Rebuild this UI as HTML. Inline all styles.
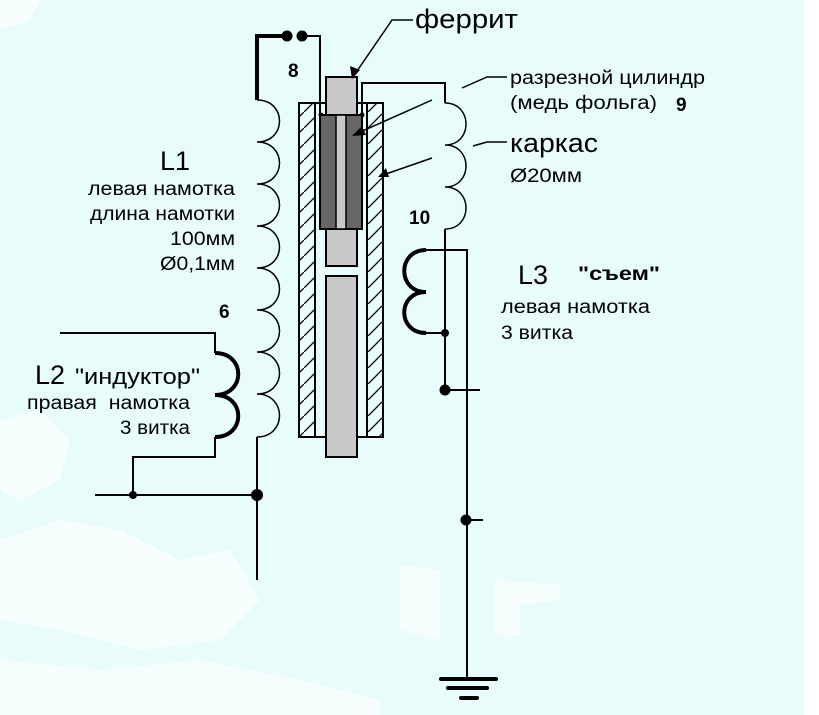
<!DOCTYPE html>
<html><head><meta charset="utf-8"><style>
html,body{margin:0;padding:0;background:#e8fcfc;}
svg{display:block;}
text{font-family:"Liberation Sans",sans-serif;fill:#000;}
</style></head><body>
<svg width="819" height="715" viewBox="0 0 819 715" xmlns="http://www.w3.org/2000/svg">
<defs>
<pattern id="h" width="16" height="16" patternUnits="userSpaceOnUse">
<line x1="0" y1="16" x2="16" y2="0" stroke="#000" stroke-width="1.3"/>
</pattern>
</defs>
<rect width="819" height="715" fill="#e8fcfc"/>
<rect x="804" y="0" width="15" height="715" fill="#fff"/>
<g fill="#fff" opacity="0.6">
<path d="M0 420 L40 410 L70 440 L60 480 L20 500 L0 490Z"/>
<path d="M0 540 L60 520 L120 530 L180 560 L230 550 L260 600 L220 640 L140 650 L60 630 L0 620Z"/>
<path d="M0 660 L100 670 L200 660 L300 680 L380 700 L380 715 L0 715Z"/>
<path d="M400 565 L440 570 L440 640 L400 630Z"/>
<path d="M495 580 L560 585 L560 600 L520 605 L520 635 L495 635Z"/>
<path d="M0 0 L40 0 L30 20 L0 30Z"/>
</g>

<g stroke="#000" fill="none" stroke-width="2">
<path d="M257 100 L257 36 L287 36" stroke-width="4"/>
<path d="M302 36 L320 36 L320 115"/>
<path d="M257 100 C287 100,287 142,257 142 C287 142,287 184,257 184 C287 184,287 226,257 226 C287 226,287 268,257 268 C287 268,287 310,257 310 C287 310,287 352,257 352 C287 352,287 394,257 394 C287 394,287 437,257 437" stroke-width="1.5"/>
<path d="M257 437 L257 580"/>
<path d="M60 333 L215 333 L215 353"/>
<path d="M215 353 C246 353,246 395,215 395 C246 395,246 437,215 437" stroke-width="4"/>
<path d="M215 437 L215 457 L133 457 L133 495"/>
<path d="M95 495 L257 495"/>
<path d="M362 115 L362 83 L445 83 L445 103"/>
<path d="M445 103 C473 103,473 145,445 145 C473 145,473 187,445 187 C473 187,473 229,445 229" stroke-width="1.5"/>
<path d="M445 229 L445 390 L480 390"/>
<path d="M426 250 L467 250 L467 679"/>
<path d="M426 250 C397 250,397 292,426 292 C397 292,397 333,426 333" stroke-width="4"/>
<path d="M426 333 L445 333"/>
<path d="M466 520 L483 520"/>
</g>
<g stroke="#000" stroke-linecap="round">
<line x1="441" y1="679" x2="496" y2="679" stroke-width="4"/>
<line x1="448" y1="688" x2="487" y2="688" stroke-width="4"/>
<line x1="461" y1="698" x2="477" y2="698" stroke-width="4"/>
</g>
<g fill="#000">
<circle cx="287" cy="36" r="5.5"/><circle cx="302" cy="36" r="5.5"/>
<circle cx="133" cy="495" r="4"/><circle cx="257" cy="495" r="6"/>
<circle cx="445" cy="333" r="4"/><circle cx="445" cy="390" r="5.5"/>
<circle cx="466" cy="520" r="5.5"/>
<circle cx="321" cy="115" r="2.5"/><circle cx="362" cy="115" r="2.5"/>
</g>
<rect x="299" y="103" width="16" height="334" fill="url(#h)" stroke="#000" stroke-width="2"/>
<rect x="367" y="103" width="16" height="334" fill="url(#h)" stroke="#000" stroke-width="2"/>
<rect x="315" y="103" width="52" height="334" fill="none" stroke="#000" stroke-width="2"/>
<rect x="326" y="77" width="31" height="189" fill="#c8c8c8" stroke="#000" stroke-width="2"/>
<rect x="326" y="276" width="31" height="181" fill="#c8c8c8" stroke="#000" stroke-width="2"/>
<rect x="320" y="115" width="42" height="114" fill="#666" stroke="#000" stroke-width="2"/>
<rect x="336" y="115" width="10" height="114" fill="#c8c8c8" stroke="#000" stroke-width="1.5"/>
<g stroke="#000" stroke-width="1.5" fill="none">
<path d="M413 20 L392 20 L355 74"/>
<path d="M462 88 L487 77 L507 77"/>
<path d="M473 146 L487 142 L507 142"/>
<path d="M432 100 L358 133"/>
<path d="M432 158 L383 175"/>
</g>
<g fill="#000">
<path d="M352 79 L350 66 L360 70Z"/>
<path d="M352 136 L362 126 L366 135Z"/>
<path d="M378 177 L386 168 L389 177Z"/>
</g>
<text x="415" y="28" font-size="27" textLength="103" lengthAdjust="spacingAndGlyphs">феррит</text>
<text x="510" y="84" font-size="19" textLength="195" lengthAdjust="spacingAndGlyphs">разрезной цилиндр</text>
<text x="510" y="109" font-size="19" textLength="147" lengthAdjust="spacingAndGlyphs">(медь фольга)</text>
<text x="676" y="111" font-size="19" font-weight="bold">9</text>
<text x="510" y="152" font-size="27" textLength="88" lengthAdjust="spacingAndGlyphs">каркас</text>
<text x="510" y="182" font-size="19" textLength="72" lengthAdjust="spacingAndGlyphs">Ø20мм</text>
<text x="288" y="77" font-size="19" font-weight="bold">8</text>
<text x="219" y="318" font-size="19" font-weight="bold">6</text>
<text x="409" y="224" font-size="19" font-weight="bold">10</text>
<text x="160" y="170" font-size="27" textLength="30" lengthAdjust="spacingAndGlyphs">L1</text>
<text x="88" y="195" font-size="19" textLength="147" lengthAdjust="spacingAndGlyphs">левая намотка</text>
<text x="90" y="220" font-size="19" textLength="145" lengthAdjust="spacingAndGlyphs">длина намотки</text>
<text x="170" y="245" font-size="19" textLength="65" lengthAdjust="spacingAndGlyphs">100мм</text>
<text x="160" y="270" font-size="19" textLength="75" lengthAdjust="spacingAndGlyphs">Ø0,1мм</text>
<text x="35" y="384" font-size="27" textLength="30" lengthAdjust="spacingAndGlyphs">L2</text>
<text x="75" y="384" font-size="22" textLength="125" lengthAdjust="spacingAndGlyphs">"индуктор"</text>
<text x="27" y="409" font-size="19" textLength="163" lengthAdjust="spacingAndGlyphs">правая&#160; намотка</text>
<text x="120" y="434" font-size="19" textLength="70" lengthAdjust="spacingAndGlyphs">3 витка</text>
<text x="518" y="284" font-size="27" textLength="30" lengthAdjust="spacingAndGlyphs">L3</text>
<text x="578" y="280" font-size="19" font-weight="bold" textLength="82" lengthAdjust="spacingAndGlyphs">"съем"</text>
<text x="501" y="313" font-size="19" textLength="149" lengthAdjust="spacingAndGlyphs">левая намотка</text>
<text x="501" y="339" font-size="19" textLength="72" lengthAdjust="spacingAndGlyphs">3 витка</text>
</svg>
</body></html>
